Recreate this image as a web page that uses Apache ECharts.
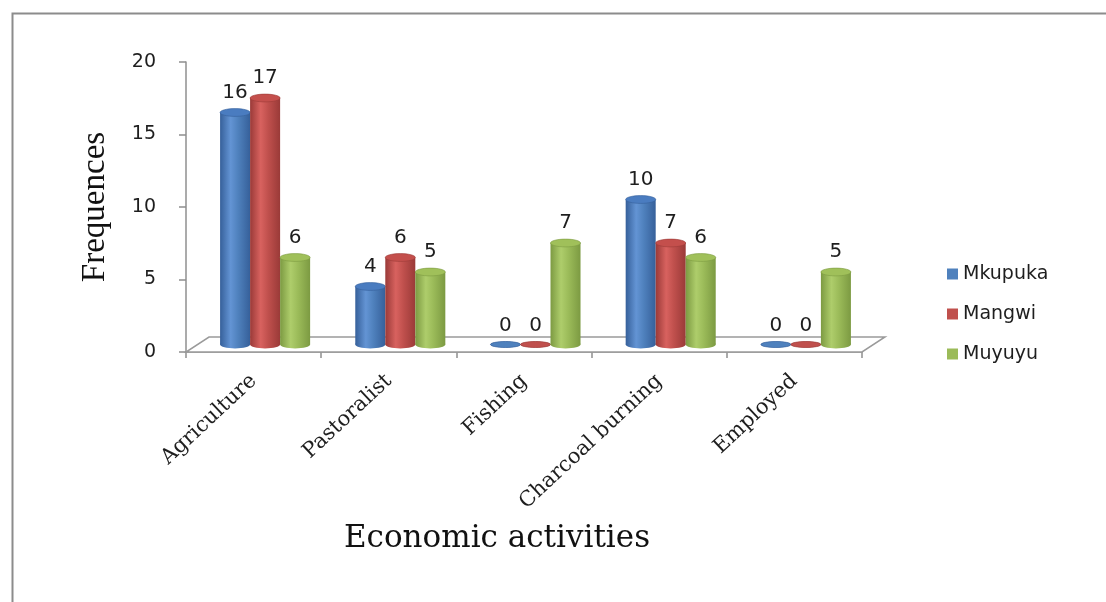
<!DOCTYPE html>
<html>
<head>
<meta charset="utf-8">
<script src="https://cdn.jsdelivr.net/npm/echarts@6/dist/echarts.min.js"></script>
<style>
  html, body { margin: 0; padding: 0; background: #ffffff; }
  #chart { width: 1106px; height: 602px; }
</style>
</head>
<body>
<div id="chart"></div>
<script>
// Economic activities by village
const categories = ['Agriculture', 'Pastoralist', 'Fishing', 'Charcoal burning', 'Employed'];
const seriesNames = ['Mkupuka', 'Mangwi', 'Muyuyu'];
const mkupuka = [16, 4, 0, 10, 0];
const mangwi = [17, 6, 0, 7, 0];
const muyuyu = [6, 5, 7, 6, 5];
const yTicks = [0, 5, 10, 15, 20];

// base colour, shaded edge, highlight, top cap
const palettes = [
  { base: '#4F81BD', dark: '#36609a', light: '#6394d4', top: '#4a7cc0' },
  { base: '#C0504D', dark: '#9a3a38', light: '#d8625f', top: '#c44f4c' },
  { base: '#9BBB59', dark: '#7c9a42', light: '#aecd6b', top: '#a0c05a' }
];

// depth of the floor behind the front axis (bars sit at half depth)
const DEPTH_X = 23, DEPTH_Y = -15;

function cylinderRenderer(idx) {
  const pal = palettes[idx];
  return function (params, api) {
    const cat = api.value(0);
    const val = api.value(1);
    const band = api.size([1, 0])[0];
    const bw = band * 0.222;
    const base = api.coord([cat, 0]);
    const top = api.coord([cat, val]);
    const cx = base[0] + (idx - 1) * bw;
    const rx = bw / 2;
    const ry = val === 0 ? bw * 0.1 : bw * 0.13;
    const grad = new echarts.graphic.LinearGradient(0, 0, 1, 0, [
      { offset: 0, color: pal.dark },
      { offset: 0.35, color: pal.light },
      { offset: 0.6, color: pal.base },
      { offset: 1, color: pal.dark }
    ]);
    const children = [
      { type: 'ellipse', shape: { cx: cx, cy: base[1], rx: rx, ry: ry }, style: { fill: grad } },
      { type: 'rect', shape: { x: cx - rx, y: top[1], width: bw, height: base[1] - top[1] }, style: { fill: grad } },
      { type: 'ellipse', shape: { cx: cx, cy: top[1], rx: rx, ry: ry },
        style: { fill: val === 0 ? pal.base : pal.top, stroke: pal.dark, lineWidth: 0.6 } },
      { type: 'text', style: {
          text: String(val), x: cx, y: top[1] - ry - 6,
          align: 'center', verticalAlign: 'bottom',
          font: '20px "DejaVu Sans"', fill: '#1e1e1e' } }
    ];
    return { type: 'group', children: children };
  };
}

function floorRenderer(params) {
  const g = params.coordSys;
  const x0 = g.x, x1 = g.x + g.width, y0 = g.y + g.height;
  return {
    type: 'polygon',
    shape: { points: [[x0, y0], [x1, y0], [x1 + DEPTH_X, y0 + DEPTH_Y], [x0 + DEPTH_X, y0 + DEPTH_Y]] },
    style: { fill: '#ffffff', stroke: '#9a9a9a', lineWidth: 1.5 }
  };
}

const seriesData = [mkupuka, mangwi, muyuyu];

const chart = echarts.init(document.getElementById('chart'), null, { renderer: 'canvas' });

chart.setOption({
  animation: false,
  backgroundColor: '#ffffff',
  graphic: [{
    type: 'rect', left: 10, top: 11, z: -10,
    shape: { width: 1200, height: 700 },
    style: { fill: 'none', stroke: '#8c8c8c', lineWidth: 2 }
  }],
  legend: {
    orient: 'vertical',
    left: 942, top: 258,
    icon: 'rect', itemWidth: 11, itemHeight: 11, itemGap: 18,
    textStyle: { fontFamily: 'DejaVu Sans', fontSize: 19, color: '#1e1e1e', lineHeight: 22 },
    data: seriesNames
  },
  grid: [
    { left: 186, right: 244, top: 62, bottom: 250 },
    { left: 186 + DEPTH_X / 2, right: 244 - DEPTH_X / 2, top: 62 + DEPTH_Y / 2, bottom: 250 - DEPTH_Y / 2 }
  ],
  xAxis: [{
    gridIndex: 0, type: 'category', data: categories, boundaryGap: true,
    axisLine: { lineStyle: { color: '#8f8f8f', width: 1.5 } },
    axisTick: { show: true, length: 6, lineStyle: { color: '#8f8f8f', width: 1.5 } },
    axisLabel: { rotate: 43, margin: 26, fontFamily: 'DejaVu Serif', fontSize: 21, color: '#1e1e1e' },
    name: 'Economic activities', nameLocation: 'middle', nameGap: 171,
    nameTextStyle: { fontFamily: 'DejaVu Serif', fontSize: 31, color: '#111', padding: [0, 54, 0, 0] }
  }, {
    gridIndex: 1, type: 'category', data: categories, boundaryGap: true, show: false
  }],
  yAxis: [{
    gridIndex: 0, type: 'value', min: 0, max: 20, interval: 5,
    axisLine: { show: true, lineStyle: { color: '#8f8f8f', width: 1.5 } },
    axisTick: { show: true, length: 7, lineStyle: { color: '#8f8f8f', width: 1.5 } },
    splitLine: { show: false },
    axisLabel: { margin: 30, fontFamily: 'DejaVu Sans', fontSize: 19, color: '#1e1e1e',
      formatter: function (v) { return yTicks.indexOf(v) >= 0 ? String(v) : ''; } },
    name: 'Frequences', nameLocation: 'middle', nameGap: 74,
    nameTextStyle: { fontFamily: 'Liberation Serif', fontSize: 33, color: '#111' }
  }, {
    gridIndex: 1, type: 'value', min: 0, max: 20, interval: 5, show: false, splitLine: { show: false }
  }],
  series: [
    {
      type: 'custom', name: 'floor', xAxisIndex: 0, yAxisIndex: 0, z: 1,
      renderItem: floorRenderer, data: [[0, 0]], silent: true
    }
  ].concat(seriesNames.map(function (name, i) {
    return {
      type: 'custom', name: name, xAxisIndex: 1, yAxisIndex: 1, z: 5,
      itemStyle: { color: palettes[i].base },
      renderItem: cylinderRenderer(i),
      encode: { x: 0, y: 1 },
      data: seriesData[i].map(function (v, k) { return [k, v]; })
    };
  }))
});
</script>
</body>
</html>
